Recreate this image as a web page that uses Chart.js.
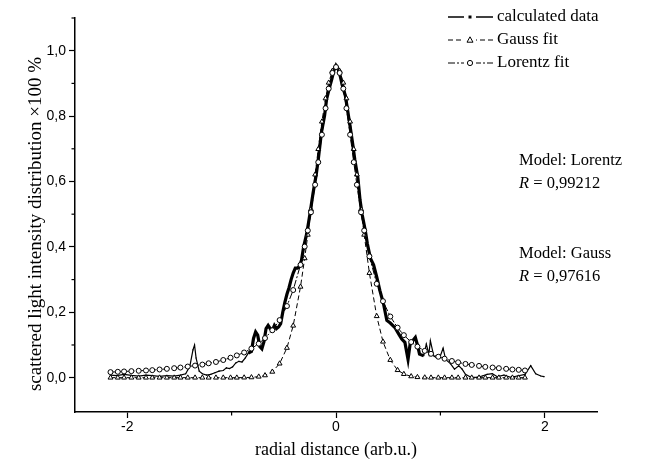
<!DOCTYPE html>
<html><head><meta charset="utf-8">
<script src="https://cdn.jsdelivr.net/npm/chart.js@4"></script>
<style>html,body{margin:0;padding:0;background:#fff}#wrap{width:646px;height:462px}</style>
</head><body><div id="wrap"><canvas id="c" width="646" height="462"></canvas></div>
<script>
// ---- data ----
const X_FIT = [-2.16,-2.09,-2.03,-1.96,-1.89,-1.82,-1.76,-1.69,-1.62,-1.55,-1.49,-1.42,-1.35,-1.28,-1.22,-1.15,-1.08,-1.01,-0.95,-0.88,-0.81,-0.74,-0.68,
  -0.61,-0.54,-0.47,-0.41,-0.34,-0.30,-0.27,-0.24,-0.20,-0.17,-0.135,-0.10,-0.07,-0.035,0,0.035,0.07,0.10,0.135,0.17,0.20,0.24,0.27,0.32,0.39,0.45,0.52,0.59,0.65,
  0.72,0.78,0.85,0.91,0.98,1.04,1.11,1.17,1.24,1.30,1.37,1.43,1.50,1.56,1.63,1.69,1.75,1.81];
const GAUSS_Y = [0,0,0,0,0,0,0,0,0,0,0,0,0,0,0,0,0,0,0,0.0003,0.0009,0.003,0.007,
  0.018,0.043,0.091,0.159,0.278,0.365,0.437,0.515,0.621,0.699,0.783,0.854,0.902,0.938,0.950,0.938,0.902,0.854,0.783,0.699,0.621,0.515,0.437,0.320,0.188,0.110,0.054,0.023,0.011,
  0.004,0.0015,0.0004,0,0,0,0,0,0,0,0,0,0,0,0,0,0,0];
const LORENTZ_Y = [0.017,0.018,0.019,0.020,0.021,0.022,0.023,0.025,0.027,0.029,0.031,0.034,0.037,0.040,0.044,0.048,0.054,0.061,0.068,0.077,0.089,0.104,0.121,
  0.145,0.176,0.219,0.268,0.345,0.401,0.450,0.506,0.590,0.659,0.743,0.824,0.884,0.932,0.950,0.932,0.884,0.824,0.743,0.659,0.590,0.506,0.450,0.371,0.287,0.234,0.187,0.153,0.130,
  0.109,0.095,0.082,0.073,0.064,0.058,0.051,0.047,0.042,0.039,0.036,0.033,0.031,0.029,0.027,0.025,0.024,0.022];
const CALC_X = [-2.16,-2.10,-2.03,-1.96,-1.89,-1.82,-1.76,-1.69,-1.62,-1.55,-1.49,-1.44,-1.40,-1.37,-1.355,-1.34,-1.31,-1.28,-1.24,-1.20,-1.16,-1.12,-1.08,-1.05,-1.02,-0.99,-0.96,-0.93,-0.90,-0.87,-0.84,-0.81,-0.79,-0.77,-0.75,-0.73,-0.71,-0.69,-0.67,-0.65,-0.63,-0.61,-0.59,-0.57,-0.55,-0.53,-0.51,-0.49,-0.47,-0.45,-0.43,-0.41,-0.39,-0.37,-0.35,-0.33,-0.31,-0.28,-0.25,-0.22,-0.19,-0.17,-0.14,-0.11,-0.09,-0.06,-0.04,-0.02,
  0.00,0.02,0.04,0.06,0.09,0.11,0.135,0.16,0.18,0.21,0.23,0.25,0.28,0.30,0.33,0.36,0.39,0.42,0.455,0.487,0.52,0.567,0.60,0.63,0.66,0.69,0.71,0.76,0.78,0.80,0.84,0.865,0.89,0.904,0.936,0.974,1.00,1.026,1.05,1.096,1.135,1.176,1.208,1.24,1.288,1.35,1.40,1.448,1.497,1.545,1.609,1.673,1.737,1.811,1.865,1.913,1.962,1.993];
const CALC_Y = [0.008,0.006,0.010,0.007,0.005,0.008,0.006,0.004,0.006,0.005,0.008,0.012,0.035,0.085,0.100,0.060,0.020,0.012,0.008,0.010,0.015,0.020,0.022,0.030,0.028,0.033,0.045,0.050,0.048,0.060,0.075,0.080,0.120,0.140,0.130,0.095,0.088,0.110,0.150,0.160,0.150,0.145,0.160,0.150,0.155,0.165,0.200,0.230,0.255,0.275,0.300,0.320,0.335,0.335,0.340,0.360,0.400,0.441,0.500,0.564,0.620,0.667,0.749,0.800,0.852,0.890,0.913,0.940,
  0.955,0.945,0.923,0.895,0.862,0.820,0.769,0.715,0.667,0.610,0.544,0.500,0.451,0.410,0.365,0.345,0.308,0.267,0.226,0.175,0.167,0.152,0.134,0.118,0.108,0.056,0.103,0.123,0.100,0.072,0.067,0.103,0.072,0.113,0.067,0.059,0.067,0.090,0.056,0.043,0.026,0.036,0.026,0.010,0.002,0.001,0.005,0.010,0.012,0.003,0.008,0.001,0.005,0.010,0.037,0.012,0.005,0.003];
const X_TICKS = [-2,-1,0,1,2];
const X_TICK_LABELS = ['-2','','0','','2'];
const Y_TICKS = [0,0.1,0.2,0.3,0.4,0.5,0.6,0.7,0.8,0.9,1.0,1.1];
const Y_TICK_LABELS = ['0,0','','0,2','','0,4','','0,6','','0,8','','1,0',''];
const SERIES_NAMES = ['calculated data','Gauss fit','Lorentz fit'];
const MODEL_NAMES = ['Model: Lorentz','Model: Gauss'];
const MODEL_R = ['0,99212','0,97616'];
const X_TITLE = 'radial distance (arb.u.)';
const Y_TITLE = 'scattered light intensity distribution \u00d7100 %';

// ---- styles ----
const SERIF = '"Liberation Serif","Times New Roman",serif';
const SANS = '"Liberation Sans",Arial,sans-serif';
const STYLES = [
  {dash: [], marker: 'rect', lw: 1.3},
  {dash: [5,3], marker: 'triangle', lw: 1},
  {dash: [7,2,2,2], marker: 'circle', lw: 1}
];

const pts = (xs, ys) => xs.map((x, i) => ({x: x, y: ys[i]}));

const overlay = {
  id: 'overlay',
  afterDraw(chart) {
    const ctx = chart.ctx;
    const xs = chart.scales.x, ys = chart.scales.y;
    const ca = chart.chartArea;
    ctx.save();
    // minor ticks
    ctx.strokeStyle = '#000'; ctx.lineWidth = 1.2;
    X_TICKS.forEach((v, i) => { if (!X_TICK_LABELS[i]) { const p = xs.getPixelForValue(v); ctx.beginPath(); ctx.moveTo(p, ca.bottom); ctx.lineTo(p, ca.bottom + 3.5); ctx.stroke(); } });
    Y_TICKS.forEach((v, i) => { if (!Y_TICK_LABELS[i]) { const p = ys.getPixelForValue(v); ctx.beginPath(); ctx.moveTo(ca.left, p); ctx.lineTo(ca.left - 3.5, p); ctx.stroke(); } });
    // axis titles
    ctx.fillStyle = '#000';
    ctx.textAlign = 'center'; ctx.textBaseline = 'middle';
    ctx.font = '18px ' + SERIF;
    ctx.fillText(X_TITLE, (ca.left + ca.right) / 2, 450);
    ctx.save();
    ctx.translate(36, 224); ctx.rotate(-Math.PI / 2);
    ctx.font = '19px ' + SERIF;
    ctx.fillText(Y_TITLE, 0, 0);
    ctx.restore();
    // legend
    ctx.textAlign = 'left';
    SERIES_NAMES.forEach((name, i) => {
      const y = 17 + 23 * i, st = STYLES[i];
      ctx.setLineDash(st.dash); ctx.lineWidth = st.lw; ctx.strokeStyle = '#000';
      ctx.beginPath(); ctx.moveTo(448, y); ctx.lineTo(493, y); ctx.stroke();
      ctx.setLineDash([]);
      ctx.fillStyle = '#fff'; ctx.fillRect(464, y - 5, 12, 10);
      ctx.lineWidth = 1; ctx.strokeStyle = '#000';
      if (st.marker === 'rect') { ctx.fillStyle = '#000'; ctx.fillRect(468.5, y - 1.5, 3, 3); }
      else if (st.marker === 'triangle') { ctx.fillStyle = '#fff'; ctx.beginPath(); ctx.moveTo(470, y - 3.2); ctx.lineTo(473, y + 2.2); ctx.lineTo(467, y + 2.2); ctx.closePath(); ctx.fill(); ctx.stroke(); }
      else { ctx.fillStyle = '#fff'; ctx.beginPath(); ctx.arc(470, y, 2.6, 0, Math.PI * 2); ctx.fill(); ctx.stroke(); }
      ctx.fillStyle = '#000';
      ctx.font = '17px ' + SERIF;
      ctx.fillText(name, 497, y);
    });
    // model notes
    const noteY = [[161, 184], [254, 277]];
    MODEL_NAMES.forEach((m, i) => {
      ctx.font = '16.5px ' + SERIF;
      ctx.fillText(m, 519, noteY[i][0]);
      ctx.font = 'italic 16.5px ' + SERIF;
      ctx.fillText('R', 519, noteY[i][1]);
      const w = ctx.measureText('R').width;
      ctx.font = '16.5px ' + SERIF;
      ctx.fillText(' = ' + MODEL_R[i], 519 + w, noteY[i][1]);
    });
    ctx.restore();
  }
};

new Chart(document.getElementById('c'), {
  type: 'scatter',
  data: {
    datasets: [
      {label: SERIES_NAMES[2], data: pts(X_FIT, LORENTZ_Y), showLine: true, borderColor: '#000', borderWidth: 1, borderDash: STYLES[2].dash,
       pointStyle: 'circle', pointRadius: 2.5, pointBackgroundColor: '#fff', pointBorderColor: '#000', pointBorderWidth: 1, tension: 0},
      {label: SERIES_NAMES[1], data: pts(X_FIT, GAUSS_Y), showLine: true, borderColor: '#000', borderWidth: 1, borderDash: STYLES[1].dash,
       pointStyle: 'triangle', pointRadius: 2.8, pointBackgroundColor: '#fff', pointBorderColor: '#000', pointBorderWidth: 1, tension: 0},
      {label: SERIES_NAMES[0], data: pts(CALC_X, CALC_Y), showLine: true, borderColor: '#000', borderWidth: 1.2,
       segment: {borderWidth: c => (Math.abs(c.p0.parsed.x) < 0.85 && Math.abs(c.p1.parsed.x) < 0.85) ? 3.2 : 1.2},
       pointStyle: 'rect', pointRadius: 0.8, pointBackgroundColor: '#000', pointBorderColor: '#000', pointBorderWidth: 0, tension: 0}
    ]
  },
  options: {
    responsive: false, animation: false, devicePixelRatio: 1,
    layout: {padding: {left: 0, right: 49, top: 18, bottom: 0}},
    plugins: {legend: {display: false}, tooltip: {enabled: false}},
    scales: {
      x: {
        type: 'linear', position: 'bottom', min: -2.5, max: 2.5,
        border: {display: true, color: '#000', width: 1.5},
        grid: {drawOnChartArea: false, drawTicks: true, tickLength: 6, tickWidth: 1.2,
               tickColor: c => (c.tick && X_TICK_LABELS[X_TICKS.indexOf(c.tick.value)]) ? '#000' : 'rgba(0,0,0,0)'},
        ticks: {color: '#000', font: {family: SANS, size: 14}, padding: 1, maxRotation: 0, autoSkip: false,
                callback: v => { const i = X_TICKS.indexOf(v); return i >= 0 ? X_TICK_LABELS[i] : ''; }},
        afterBuildTicks: s => { s.ticks = X_TICKS.map(v => ({value: v})); },
        afterFit: s => { s.height = 50; }
      },
      y: {
        type: 'linear', position: 'left', min: -0.105, max: 1.1,
        border: {display: true, color: '#000', width: 1.5},
        grid: {drawOnChartArea: false, drawTicks: true, tickLength: 6, tickWidth: 1.2,
               tickColor: c => (c.tick && Y_TICK_LABELS[Y_TICKS.findIndex(t => Math.abs(t - c.tick.value) < 1e-6)]) ? '#000' : 'rgba(0,0,0,0)'},
        ticks: {color: '#000', font: {family: SANS, size: 14}, padding: 3, autoSkip: false,
                callback: v => { const i = Y_TICKS.findIndex(t => Math.abs(t - v) < 1e-6); return i >= 0 ? Y_TICK_LABELS[i] : ''; }},
        afterBuildTicks: s => { s.ticks = Y_TICKS.map(v => ({value: v})); },
        afterFit: s => { s.width = 75; }
      }
    }
  },
  plugins: [overlay]
});
</script>
</body></html>
